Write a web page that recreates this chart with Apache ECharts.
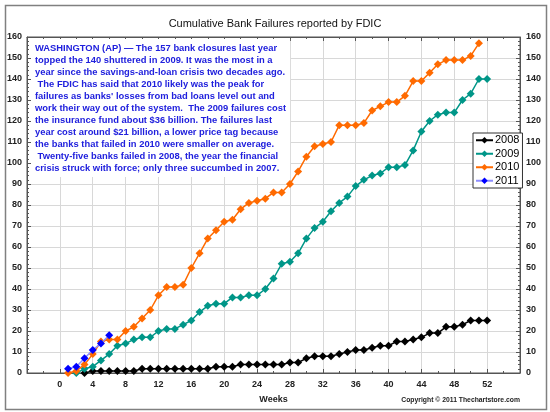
<!DOCTYPE html>
<html><head><meta charset="utf-8">
<script src="https://cdn.jsdelivr.net/npm/echarts@6/dist/echarts.min.js"></script>
<style>html,body{margin:0;padding:0;background:#fff}#c{width:550px;height:412px}</style>
</head><body><div id="c"></div>
<script>
const chartTitle = 'Cumulative Bank Failures reported by FDIC';
const seriesNames = ['2008', '2009', '2010', '2011'];
const startWeeks = [3, 2, 1, 1];
const values2008 = [0,1,1,1,1,1,1,2,2,2,2,2,2,2,2,2,3,3,3,4,4,4,4,4,4,5,5,7,8,8,8,9,10,11,11,12,13,13,15,15,16,17,19,19,22,22,23,25,25,25];
const values2009 = [0,2,3,6,9,13,14,16,17,17,20,21,21,23,25,29,32,33,33,36,36,37,37,40,45,52,53,57,64,69,72,77,81,84,89,92,94,95,98,98,99,106,115,120,123,124,124,130,133,140,140];
const values2010 = [0,1,4,9,15,16,16,20,22,26,30,37,41,41,42,50,57,64,68,72,73,78,81,82,83,86,86,90,96,103,108,109,110,118,118,118,119,125,127,129,129,132,139,139,143,147,149,149,149,151,157];
const values2011 = [2,3,7,11,14,18];
const xTickLabels = ['0','4','8','12','16','20','24','28','32','36','40','44','48','52'];
const noteLines = [
 'WASHINGTON (AP) \u2014 The 157 bank closures last year',
 'topped the 140 shuttered in 2009. It was the most in a',
 'year since the savings-and-loan crisis two decades ago.',
 ' The FDIC has said that 2010 likely was the peak for',
 "failures as banks' losses from bad loans level out and",
 'work their way out of the system.  The 2009 failures cost',
 'the insurance fund about $36 billion. The failures last',
 'year cost around $21 billion, a lower price tag because',
 'the banks that failed in 2010 were smaller on average.',
 ' Twenty-five banks failed in 2008, the year the financial',
 'crisis struck with force; only three succumbed in 2007.'
];
const xName = 'Weeks';
const copyright = 'Copyright \u00a9 2011 Thechartstore.com';

const allValues = [values2008, values2009, values2010, values2011];
const lineColors = ['#000000', '#009688', '#ff6a00', '#8c8cff'];
const markColors = ['#000000', '#009688', '#ff6a00', '#0000ff'];

const chart = echarts.init(document.getElementById('c'), null, {renderer: 'canvas'});
const series = seriesNames.map((n, i) => ({
  name: n, type: 'line', xAxisIndex: 0, yAxisIndex: 0,
  data: allValues[i].map((v, k) => [startWeeks[i] + k, v]),
  symbol: 'diamond', symbolSize: 8,
  lineStyle: {color: lineColors[i], width: 1.5},
  itemStyle: {color: markColors[i]},
  emphasis: {disabled: true}, animation: false, z: 3 + i
}));

const FF = 'Arial, Liberation Sans';
const axisFont = {fontFamily: FF, fontSize: 9, fontWeight: 'bold', color: '#222'};
const tickStyle = {color: '#555'};
chart.setOption({
  animation: false,
  backgroundColor: '#fff',
  title: {text: chartTitle, left: 'center', top: 13, textStyle: {fontFamily: FF, fontSize: 11, fontWeight: 'normal', color: '#111'}},
  grid: {left: 27, right: 30, top: 37, bottom: 39, show: true, backgroundColor: '#fff', borderColor: '#555', borderWidth: 1},
  legend: {
    orient: 'vertical', left: 473, top: 133, itemWidth: 17, itemHeight: 8, itemGap: 1,
    padding: [1, 3, 1, 2], borderColor: '#333', borderWidth: 1, backgroundColor: '#fff',
    textStyle: {fontFamily: FF, fontSize: 11, color: '#000', padding: [0,0,0,-3], lineHeight: 12.5},
    data: seriesNames
  },
  xAxis: [{
    type: 'value', min: -4, max: 56, interval: 4,
    name: xName, nameLocation: 'middle', nameGap: 22,
    nameTextStyle: {fontFamily: FF, fontSize: 9, fontWeight: 'bold', color: '#222'},
    axisLine: {show: true, onZero: false, lineStyle: tickStyle},
    axisTick: {inside: true, length: 4, lineStyle: tickStyle},
    minorTick: {show: true, splitNumber: 2, length: 2, lineStyle: tickStyle},
    axisLabel: Object.assign({margin: 7, formatter: v => xTickLabels.includes(String(v)) ? String(v) : ''}, axisFont),
    splitLine: {show: true, lineStyle: {color: '#d8d8d8'}}
  }, {
    type: 'value', position: 'top', min: -4, max: 56, interval: 4,
    axisLine: {show: true, onZero: false, lineStyle: tickStyle},
    axisTick: {inside: true, length: 4, lineStyle: tickStyle},
    minorTick: {show: true, splitNumber: 2, length: 2, lineStyle: tickStyle},
    axisLabel: {show: false}, splitLine: {show: false}
  }],
  yAxis: [{
    type: 'value', min: 0, max: 160, interval: 10, position: 'left',
    axisLine: {show: true, onZero: false, lineStyle: tickStyle},
    axisTick: {inside: true, length: 4, lineStyle: tickStyle},
    minorTick: {show: true, splitNumber: 5, length: 2, lineStyle: tickStyle},
    axisLabel: Object.assign({margin: 5}, axisFont),
    splitLine: {show: true, lineStyle: {color: '#d8d8d8'}}
  }, {
    type: 'value', min: 0, max: 160, interval: 10, position: 'right',
    axisLine: {show: true, onZero: false, lineStyle: tickStyle},
    axisTick: {inside: true, length: 4, lineStyle: tickStyle},
    minorTick: {show: true, splitNumber: 5, length: 2, lineStyle: tickStyle},
    axisLabel: Object.assign({margin: 6}, axisFont),
    splitLine: {show: false}
  }],
  graphic: [
    {type: 'rect', left: 3, top: 3, shape: {width: 541, height: 404}, style: {fill: 'none', stroke: '#808080', lineWidth: 1.5}, silent: true, z: 100},
    {type: 'text', left: 31, top: 39, z: 50, style: {text: noteLines.join('\n'), fill: '#2020dd', font: 'bold 9.4px Arial, Liberation Sans', lineHeight: 12, backgroundColor: '#fff', padding: [3, 4, 3, 4]}},
    {type: 'text', right: 30, top: 397, z: 50, style: {text: copyright, fill: '#222', font: 'bold 6.8px Arial, Liberation Sans'}}
  ],
  series: series
});
</script>
</body></html>
